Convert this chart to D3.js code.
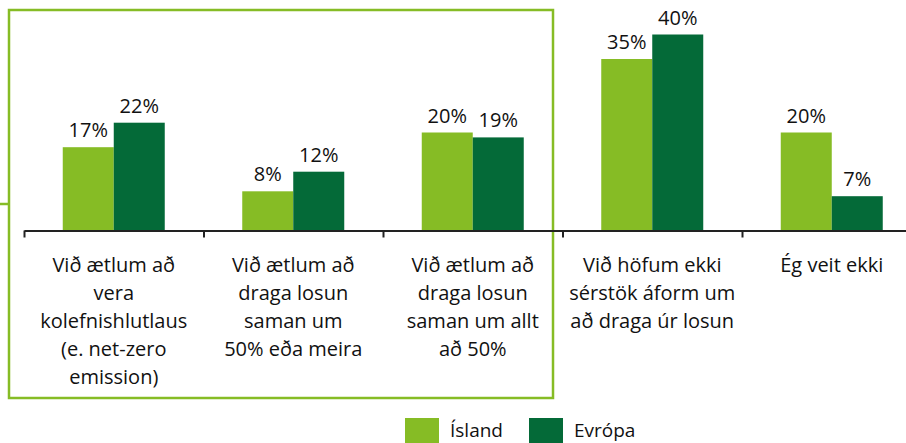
<!DOCTYPE html>
<html>
<head>
<meta charset="utf-8">
<script src="https://cdn.jsdelivr.net/npm/d3@7"></script>
<style>
  body { margin: 0; background: #fff; }
  text { font-family: "Open Sans", sans-serif; fill: #111; }
</style>
</head>
<body>
<svg id="chart" width="906" height="443"></svg>
<script>
// data
var categories = [
  ["Við ætlum að", "vera", "kolefnishlutlaus", "(e. net-zero", "emission)"],
  ["Við ætlum að", "draga losun", "saman um", "50% eða meira"],
  ["Við ætlum að", "draga losun", "saman um allt", "að 50%"],
  ["Við höfum ekki", "sérstök áform um", "að draga úr losun"],
  ["Ég veit ekki"]
];
var seriesNames = ["Ísland", "Evrópa"];
var island = [17, 8, 20, 35, 20];
var evropa = [22, 12, 19, 40, 7];
var colors = ["#86bc25", "#046a38"];

(function(){
  var svg = d3.select("#chart");
  var baseY = 230.5, bandW = 179.5, left = 24, groupW = 102;

  var x0 = d3.scaleBand().domain(d3.range(categories.length))
      .range([left, left + bandW * categories.length]);
  var xEdge = d3.scaleLinear().domain([0, categories.length])
      .range([left, left + bandW * categories.length]);
  var x1 = d3.scaleBand().domain(seriesNames).range([0, groupW]);
  var y = d3.scaleLinear().domain([0, 45]).range([baseY, 10]);
  var z = d3.scaleOrdinal().domain(seriesNames).range(colors);

  var rows = categories.map(function (c, i) {
    return { idx: i, lines: c, values: [
      { name: seriesNames[0], v: island[i] },
      { name: seriesNames[1], v: evropa[i] }
    ]};
  });

  // green highlight box
  svg.append("rect")
    .attr("x", 9).attr("y", 10).attr("width", 544).attr("height", 388)
    .attr("fill", "none").attr("stroke", "#86bc25").attr("stroke-width", 2.5);
  svg.append("line")
    .attr("x1", 0).attr("x2", 9).attr("y1", 204).attr("y2", 204)
    .attr("stroke", "#86bc25").attr("stroke-width", 2.5);

  var group = svg.selectAll(".grp").data(rows).enter().append("g")
    .attr("class", "grp")
    .attr("transform", function (d) {
      return "translate(" + (x0(d.idx) + (x0.bandwidth() - groupW) / 2) + ",0)";
    });

  group.selectAll("rect").data(function (d) { return d.values; }).enter().append("rect")
    .attr("x", function (d) { return x1(d.name); })
    .attr("y", function (d) { return y(d.v); })
    .attr("width", x1.bandwidth())
    .attr("height", function (d) { return baseY - y(d.v); })
    .attr("fill", function (d) { return z(d.name); });

  group.selectAll(".val").data(function (d) { return d.values; }).enter().append("text")
    .attr("class", "val")
    .attr("x", function (d) { return x1(d.name) + x1.bandwidth() / 2; })
    .attr("y", function (d) { return y(d.v) - 10; })
    .attr("text-anchor", "middle")
    .style("font-size", "20px")
    .text(function (d) { return d.v + "%"; });

  // axis
  var axis = svg.append("g")
    .attr("transform", "translate(0," + baseY + ")")
    .call(d3.axisBottom(xEdge).tickValues(d3.range(categories.length + 1))
      .tickSizeInner(7).tickSizeOuter(0).tickFormat(""));
  axis.select(".domain").attr("stroke", "#222").attr("stroke-width", 2);
  axis.selectAll(".tick line").attr("stroke", "#222").attr("stroke-width", 2);

  var labels = svg.selectAll(".cat").data(rows).enter().append("text")
    .attr("class", "cat")
    .attr("text-anchor", "middle")
    .style("font-size", "20px");
  labels.selectAll("tspan").data(function (d) {
      return d.lines.map(function (l) { return { t: l, i: d.idx }; });
    }).enter().append("tspan")
    .attr("x", function (d) { return x0(d.i) + x0.bandwidth() / 2; })
    .attr("y", function (d, j) { return 272 + j * 28; })
    .text(function (d) { return d.t; });

  // legend
  var legendX = [405, 529];
  var legend = svg.selectAll(".legend").data(seriesNames).enter().append("g")
    .attr("class", "legend")
    .attr("transform", function (d, i) { return "translate(" + legendX[i] + ",418)"; });
  legend.append("rect").attr("width", 34).attr("height", 25).attr("fill", z);
  legend.append("text").attr("x", 45).attr("y", 19)
    .style("font-size", "19px")
    .text(function (d) { return d; });
})();
</script>
</body>
</html>
